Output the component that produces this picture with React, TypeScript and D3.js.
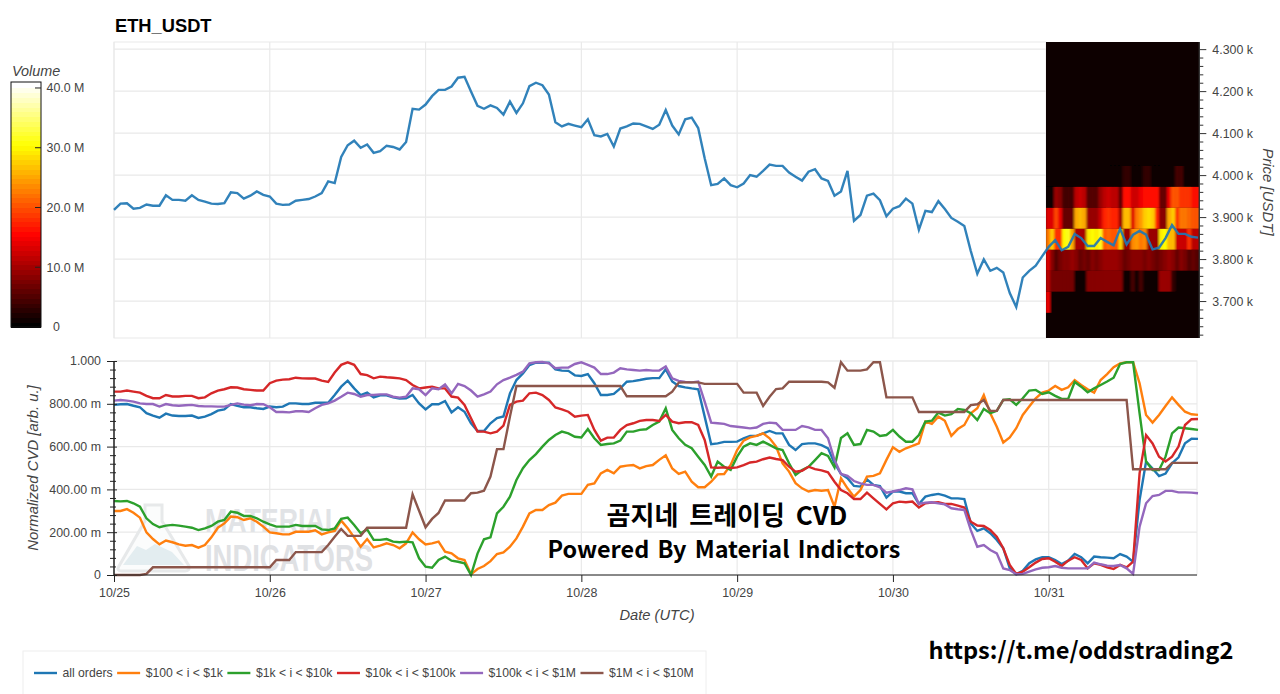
import { useEffect, useRef } from 'react';
import * as d3 from 'd3';

// hourly samples, 10/25 00:00 to 10/31 23:00 (one row per day)
const price = [
  3917, 3932, 3933, 3920, 3922, 3930, 3927, 3927, 3952, 3941, 3941, 3939, 3952, 3941, 3937, 3932, 3931, 3933, 3959, 3957, 3944, 3951, 3961, 3953,
  3949, 3932, 3929, 3930, 3939, 3941, 3943, 3949, 3957, 3985, 3981, 4043, 4071, 4082, 4065, 4073, 4053, 4057, 4070, 4067, 4061, 4079, 4158, 4156,
  4168, 4188, 4203, 4203, 4211, 4232, 4234, 4199, 4165, 4158, 4166, 4160, 4144, 4175, 4148, 4171, 4212, 4220, 4214, 4192, 4126, 4116, 4122, 4118,
  4114, 4133, 4095, 4092, 4098, 4068, 4111, 4116, 4123, 4122, 4116, 4110, 4120, 4155, 4118, 4097, 4133, 4137, 4112, 4040, 3976, 3979, 3992, 3976,
  3971, 3980, 4000, 3996, 4010, 4025, 4022, 4022, 4006, 3996, 3987, 4008, 4014, 3992, 3986, 3951, 3961, 4010, 3891, 3905, 3951, 3956, 3940, 3902,
  3920, 3926, 3944, 3932, 3870, 3915, 3912, 3938, 3919, 3898, 3889, 3879, 3819, 3765, 3799, 3772, 3779, 3768, 3719, 3686, 3756, 3772, 3784, 3807,
  3829, 3845, 3821, 3829, 3860, 3850, 3831, 3831, 3850, 3841, 3833, 3872, 3835, 3858, 3867, 3858, 3823, 3827, 3850, 3881, 3860, 3860, 3853, 3851,
];

// normalized CVD, in milli units
const allOrders = [
  795, 798, 799, 791, 784, 756, 745, 735, 754, 745, 743, 743, 745, 734, 740, 752, 768, 774, 799, 790, 784, 784, 779, 776,
  787, 784, 787, 802, 802, 799, 799, 805, 805, 805, 841, 880, 908, 872, 841, 852, 830, 840, 840, 830, 824, 826, 841, 802,
  774, 798, 798, 813, 760, 784, 763, 709, 673, 673, 709, 733, 741, 849, 911, 942, 981, 992, 992, 992, 961, 955, 954, 933,
  930, 939, 896, 841, 841, 846, 872, 903, 906, 911, 917, 920, 920, 961, 904, 883, 877, 872, 868, 740, 611, 615, 622, 622,
  623, 639, 650, 650, 662, 673, 662, 662, 608, 584, 612, 615, 615, 607, 592, 522, 472, 452, 416, 413, 447, 421, 416, 362,
  390, 390, 382, 382, 332, 366, 374, 379, 371, 358, 358, 355, 241, 206, 218, 195, 164, 125, 31, 3, 20, 55, 73, 83,
  83, 70, 51, 67, 98, 83, 55, 86, 83, 81, 78, 98, 86, 62, 350, 530, 498, 462, 474, 522, 550, 616, 637, 636,
];
const orders100to1k = [
  299, 299, 308, 291, 268, 199, 168, 143, 161, 153, 143, 137, 140, 128, 140, 176, 221, 241, 273, 270, 257, 265, 249, 226,
  199, 195, 190, 190, 202, 202, 202, 209, 190, 199, 206, 254, 218, 176, 132, 168, 129, 137, 148, 140, 125, 148, 199, 167,
  143, 148, 156, 109, 101, 78, 70, 3, 28, 42, 65, 98, 106, 132, 171, 226, 288, 304, 304, 327, 338, 371, 379, 379,
  379, 421, 428, 475, 491, 475, 506, 511, 514, 498, 509, 514, 538, 559, 498, 472, 483, 436, 410, 410, 436, 470, 472, 514,
  584, 628, 643, 650, 662, 639, 600, 522, 483, 429, 405, 390, 397, 394, 397, 319, 452, 405, 366, 397, 460, 463, 475, 538,
  597, 576, 592, 603, 615, 717, 706, 740, 721, 650, 682, 701, 756, 779, 841, 756, 693, 619, 643, 686, 748, 787, 826, 852,
  862, 883, 865, 877, 911, 888, 868, 852, 911, 939, 971, 989, 994, 994, 896, 748, 712, 748, 790, 830, 795, 763, 751, 748,
];
const orders1kto10k = [
  346, 344, 346, 335, 319, 265, 238, 223, 231, 234, 231, 226, 221, 210, 218, 229, 249, 257, 296, 291, 276, 276, 265, 249,
  237, 226, 226, 226, 234, 229, 229, 229, 213, 210, 218, 262, 268, 234, 195, 213, 164, 164, 168, 156, 153, 156, 153, 78,
  39, 34, 70, 86, 67, 62, 55, 0, 100, 167, 176, 288, 319, 366, 444, 499, 537, 565, 600, 631, 654, 670, 662, 646,
  643, 682, 639, 608, 612, 615, 628, 670, 670, 678, 681, 701, 717, 779, 678, 639, 608, 592, 553, 514, 460, 530, 506, 491,
  553, 600, 615, 608, 623, 608, 592, 584, 522, 467, 490, 506, 537, 569, 556, 503, 640, 662, 608, 612, 678, 670, 650, 654,
  678, 647, 623, 623, 654, 717, 721, 759, 745, 752, 776, 771, 756, 724, 776, 756, 767, 818, 821, 795, 826, 862, 865, 846,
  854, 837, 823, 823, 902, 880, 854, 872, 888, 904, 922, 986, 994, 994, 755, 530, 491, 491, 553, 662, 689, 686, 682, 678,
];
const orders10kto100k = [
  857, 857, 862, 857, 852, 837, 826, 826, 841, 834, 834, 837, 837, 826, 830, 849, 862, 868, 877, 876, 868, 865, 862, 862,
  896, 908, 913, 915, 922, 919, 918, 918, 908, 902, 946, 982, 994, 982, 939, 934, 919, 927, 924, 922, 919, 911, 888, 872,
  876, 880, 872, 872, 834, 829, 795, 732, 670, 670, 662, 670, 698, 795, 810, 815, 849, 852, 841, 818, 783, 774, 763, 740,
  745, 748, 678, 628, 642, 642, 678, 701, 709, 720, 724, 724, 720, 748, 717, 709, 714, 714, 701, 631, 503, 501, 503, 500,
  503, 514, 526, 530, 541, 549, 542, 537, 506, 483, 487, 506, 495, 489, 480, 436, 397, 382, 355, 355, 385, 358, 332, 307,
  335, 343, 340, 343, 315, 335, 338, 340, 332, 332, 324, 315, 249, 231, 229, 210, 179, 125, 47, 5, 16, 36, 58, 75,
  78, 62, 42, 67, 83, 70, 31, 55, 47, 36, 28, 47, 36, 62, 475, 654, 615, 553, 530, 553, 600, 701, 728, 729,
];
const orders100kto1M = [
  815, 818, 815, 810, 802, 799, 799, 787, 799, 793, 791, 793, 795, 790, 788, 788, 787, 787, 795, 802, 796, 793, 799, 798,
  784, 762, 762, 760, 765, 765, 762, 779, 795, 802, 815, 833, 852, 846, 833, 841, 841, 844, 844, 833, 829, 833, 872, 868,
  841, 872, 868, 890, 849, 893, 883, 862, 833, 844, 857, 891, 911, 922, 935, 950, 989, 994, 995, 989, 966, 969, 969, 986,
  994, 982, 969, 939, 939, 946, 966, 961, 958, 955, 958, 955, 955, 974, 919, 907, 902, 900, 904, 810, 712, 709, 706, 696,
  693, 689, 685, 689, 706, 712, 709, 678, 678, 678, 696, 690, 678, 678, 639, 537, 472, 463, 439, 428, 421, 421, 410, 385,
  390, 397, 405, 400, 332, 338, 340, 335, 330, 312, 307, 304, 210, 132, 140, 117, 101, 31, 23, 3, 5, 16, 26, 34,
  36, 42, 34, 31, 31, 31, 31, 58, 50, 44, 42, 47, 31, 5, 226, 335, 369, 374, 393, 393, 386, 386, 385, 382,
];
const orders1Mto10M = [
  0, 0, 0, 0, 0, 5, 36, 36, 36, 36, 36, 36, 36, 36, 36, 36, 36, 36, 36, 36, 36, 36, 36, 36,
  36, 70, 70, 70, 107, 107, 107, 107, 107, 140, 179, 215, 183, 183, 183, 221, 221, 221, 221, 221, 221, 221, 377, 300,
  223, 262, 290, 348, 348, 348, 348, 382, 385, 394, 460, 588, 588, 740, 883, 883, 883, 883, 883, 883, 883, 883, 883, 883,
  883, 883, 883, 883, 883, 883, 883, 835, 835, 835, 835, 835, 835, 835, 857, 899, 900, 900, 900, 893, 893, 893, 893, 893,
  893, 852, 852, 852, 790, 833, 869, 872, 903, 903, 903, 903, 903, 903, 900, 875, 994, 955, 955, 955, 961, 994, 994, 830,
  830, 830, 830, 830, 762, 762, 762, 762, 762, 762, 762, 762, 794, 798, 818, 767, 767, 818, 818, 818, 818, 818, 818, 818,
  818, 818, 818, 818, 818, 818, 818, 818, 818, 818, 818, 818, 818, 494, 494, 494, 494, 494, 494, 524, 524, 524, 524, 524,
];

const seriesNames = ['all orders', '$100 < i < $1k', '$1k < i < $10k', '$10k < i < $100k', '$100k < i < $1M', '$1M < i < $10M'];
const seriesValues = [allOrders, orders100to1k, orders1kto10k, orders10kto100k, orders100kto1M, orders1Mto10M];
const seriesColors = ['#1f77b4', '#ff7f0e', '#2ca02c', '#d62728', '#9467bd', '#8c564b'];

// order book volume in M, lower edge of each 50 USD price band, one value per time column
const heatBandLows = [3972, 3922, 3872, 3822, 3772, 3722, 3672];
const heatEmpty = 0.4;
const heatVolumes = [
  [.4, .4, .4, .4, .4, .4, .4, .4, .4, .4, .4, .4, .4, .4, .4, .4, .4, .4, .4, 3, 3, .4, .4, .4, 3, 3, .4, .4, .4, .4, .4, .4, 4, 4, .4, .4, .4, .4],
  [.4, .4, 9, 8, 4, 4, 4, 11, 12, 11, 5, 5, 5, 9, 11, 12, 11, 11, 5, 16, 16, 12, 12, 14, 16, 16, 16, 16, 6, 6, 14, 20, 20, 18, 18, 18, 16, 16],
  [13, 13, 19, 14, 6, 6, 6, 25, 26, 25, 9, 9, 9, 12, 17, 18, 17, 17, 9, 26, 26, 13, 22, 24, 27, 28, 27, 17, 8, 8, 25, 27, 18, 22, 22, 21, 20, 20],
  [22, 27, 18, 18, 30, 31, 25, 10, 10, 10, 29, 30, 29, 31, 20, 21, 20, 20, 28, 9, 9, 23, 24, 22, 23, 9, 9, 9, 29, 30, 26, 26, 12, 12, 12, 18, 11, 11],
  [13, 8, 5, 7, 8, 8, 9, 8, 6, 7, 6, 8, 7, 8, 9, 9, 9, 9, 8, 6, 7, 8, 8, 8, 7, 8, 7, 6, 7, 8, 9, 8, 6, 8, 7, 5, 6, 5],
  [11, 7, 7, 7, 7, 7, 7, 1, 1, 1, 8, 8, 8, 8, 8, 8, 8, 8, 8, 1, 1, 4, 1, 4, 1, 1, 1, 1, 9, 9, 9, 3, 1, 1, 1, 1, 1, 1],
  [14, 1, 1, 1, 1, 1, 1, 1, 1, 1, 1, 1, 1, 1, 1, 1, 1, 1, 1, 1, 1, 1, 1, 1, 1, 1, 1, 1, 1, 1, 1, 1, 1, 1, 1, 1, 1, 1],
];

const dayTicks = [0, 24, 48, 72, 96, 120, 144];
const dayLabels = ['10/25', '10/26', '10/27', '10/28', '10/29', '10/30', '10/31'];
const priceTicks = [3700, 3800, 3900, 4000, 4100, 4200, 4300];
const cvdTicks = [0, 200, 400, 600, 800, 1000];
const volumeTicks = [0, 10, 20, 30, 40];

const FONT = '"Liberation Sans", Arial, sans-serif';
const TEXT = '#444444';
const GRID = '#e9e9e9';

// matplotlib style "hot" colour map, 0..40 M
function hot(v: number) {
  const t = Math.min(1, v / 40);
  const r = Math.min(1, t / 0.375);
  const g = Math.max(0, Math.min(1, (t - 0.375) / 0.375));
  const b = Math.max(0, (t - 0.75) / 0.25);
  return d3.rgb(r * 255, g * 255, b * 255).formatHex();
}

export default function App() {
  const svgRef = useRef<SVGSVGElement>(null);

  useEffect(() => {
    const svg = d3.select(svgRef.current);
    svg.selectAll('*').remove();

    const addText = (x: number, y: number, str: string, size: number, opts: any = {}) =>
      svg.append('text')
        .attr('x', x)
        .attr('y', y)
        .attr('text-anchor', opts.anchor || 'start')
        .attr('transform', opts.rotate ? `rotate(${opts.rotate},${x},${y})` : null)
        .style('font-family', opts.family || FONT)
        .style('font-size', `${size}px`)
        .style('font-weight', opts.weight || 'normal')
        .style('font-style', opts.italic ? 'italic' : 'normal')
        .style('word-spacing', opts.wordSpacing ? `${opts.wordSpacing}px` : null)
        .style('fill', opts.fill || TEXT)
        .text(str);

    // Scales
    const xTop = d3.scaleLinear().domain([0, 167]).range([114, 1198]);
    const yPrice = d3.scaleLinear().domain([3612, 4317]).range([338, 42]);
    const yCvd = d3.scaleLinear().domain([0, 1000]).range([575, 361]);
    const lineOf = (yScale: d3.ScaleLinear<number, number>) =>
      d3.line<number>().x((_, i) => xTop(i)).y(d => yScale(d));

    addText(115, 32, 'ETH_USDT', 18.3, { weight: 'bold', fill: '#000' });

    // Top panel frame and grid
    svg.append('rect').attr('x', 114).attr('y', 42).attr('width', 932).attr('height', 296)
      .attr('fill', '#fff').attr('stroke', GRID);
    svg.append('g').selectAll('line').data(priceTicks).enter().append('line')
      .attr('x1', 114).attr('x2', 1046)
      .attr('y1', d => yPrice(d)).attr('y2', d => yPrice(d))
      .attr('stroke', GRID).attr('stroke-width', 1.2);
    svg.append('g').selectAll('line').data(dayTicks).enter().append('line')
      .attr('x1', d => xTop(d)).attr('x2', d => xTop(d))
      .attr('y1', 42).attr('y2', 338)
      .attr('stroke', GRID).attr('stroke-width', 1.2);

    // Heatmap, slightly soft like the reference
    const defs = svg.append('defs');
    defs.append('clipPath').attr('id', 'heat-clip').append('rect')
      .attr('x', 1046).attr('y', 42).attr('width', 153.3).attr('height', 296);
    defs.append('filter').attr('id', 'heat-soft')
      .attr('filterUnits', 'userSpaceOnUse').attr('x', 1030).attr('y', 30).attr('width', 190).attr('height', 320)
      .append('feGaussianBlur').attr('stdDeviation', '0.8 0.5');
    const xHeat = d3.scaleBand<number>().domain(d3.range(heatVolumes[0].length)).range([1046, 1199.3]);
    const heat = svg.append('g').attr('clip-path', 'url(#heat-clip)').append('g').attr('filter', 'url(#heat-soft)');
    heat.append('rect').attr('x', 1036).attr('y', 32).attr('width', 175).attr('height', 316).attr('fill', hot(heatEmpty));
    heatVolumes.forEach((row, b) => {
      heat.append('g').selectAll('rect').data(row).enter().append('rect')
        .attr('x', (_, i) => xHeat(i)!)
        .attr('width', xHeat.bandwidth() + 0.5)
        .attr('y', yPrice(heatBandLows[b] + 50))
        .attr('height', yPrice(heatBandLows[b]) - yPrice(heatBandLows[b] + 50))
        .attr('fill', d => hot(d));
    });

    svg.append('path').datum(price)
      .attr('d', lineOf(yPrice))
      .attr('fill', 'none')
      .attr('stroke', seriesColors[0])
      .attr('stroke-opacity', 0.92)
      .attr('stroke-width', 2.4);

    // Price axis
    const priceMinor = d3.range(3620, 4301, 20).filter(d => d % 100 !== 0);
    const priceMinorG = svg.append('g').attr('transform', 'translate(1199.3,0)')
      .call(d3.axisRight(yPrice).tickValues(priceMinor).tickSize(4).tickFormat(() => ''));
    const priceAxis = svg.append('g').attr('transform', 'translate(1199.3,0)')
      .call(d3.axisRight(yPrice).tickValues(priceTicks).tickSize(7)
        .tickFormat(d => `${d3.format('.3f')(+d / 1000)} k`));
    priceAxis.selectAll('text').attr('x', 13).style('font-family', FONT).style('font-size', '12.4px').style('fill', TEXT);
    [priceMinorG, priceAxis].forEach(g => {
      g.selectAll('.domain').attr('d', 'M0,42V338').attr('stroke', '#333');
      g.selectAll('.tick line').attr('stroke', '#333');
    });
    addText(1263, 192, 'Price [USDT]', 15, { italic: true, anchor: 'middle', rotate: 90 });

    // Volume colour bar
    const yBar = d3.scaleLinear().domain([0, 41]).range([327, 82]);
    const barLevels = d3.range(0, 41, 0.8);
    svg.append('g').attr('shape-rendering', 'crispEdges').selectAll('rect').data(barLevels).enter().append('rect')
      .attr('x', 11)
      .attr('width', 30)
      .attr('y', d => yBar(d + 0.8))
      .attr('height', d => yBar(d) - yBar(d + 0.8) + 0.5)
      .attr('fill', d => hot(d));
    svg.append('rect').attr('x', 11).attr('y', 82).attr('width', 30).attr('height', 245)
      .attr('fill', 'none').attr('stroke', '#111');
    svg.append('g').selectAll('line').data(volumeTicks.slice(1)).enter().append('line')
      .attr('x1', 35).attr('x2', 41)
      .attr('y1', d => yBar(d)).attr('y2', d => yBar(d))
      .attr('stroke', '#222');
    volumeTicks.forEach(d => {
      addText(d === 0 ? 53 : 46.5, yBar(d) + 4.5 - (d === 0 ? 1 : 0), d === 0 ? '0' : `${d.toFixed(1)} M`, 12.4);
    });
    addText(12, 76, 'Volume', 14.4, { italic: true });

    // Bottom panel frame and grid
    svg.append('rect').attr('x', 114).attr('y', 361).attr('width', 1083).attr('height', 214)
      .attr('fill', '#fff').attr('stroke', GRID);
    svg.append('g').selectAll('line').data(cvdTicks).enter().append('line')
      .attr('x1', 114).attr('x2', 1197)
      .attr('y1', d => yCvd(d)).attr('y2', d => yCvd(d))
      .attr('stroke', GRID).attr('stroke-width', 1.2);
    svg.append('g').selectAll('line').data(dayTicks).enter().append('line')
      .attr('x1', d => xTop(d)).attr('x2', d => xTop(d))
      .attr('y1', 361).attr('y2', 575)
      .attr('stroke', GRID).attr('stroke-width', 1.2);

    // Watermark logo and text, under the lines
    const mark = svg.append('g');
    mark.append('path')
      .attr('d', 'M145,505H162V521L189,566Q190,571 185,571H122Q116,571 119,566L145,521Z')
      .attr('fill', '#fbfcfc').attr('stroke', '#e7e9ea').attr('stroke-width', 3);
    mark.append('path')
      .attr('d', 'M123,565L137,546L146,550L155,544L172,552L184,565Z')
      .attr('fill', '#e3edf0');
    mark.append('text').attr('x', 205).attr('y', 532).attr('textLength', 136).attr('lengthAdjust', 'spacingAndGlyphs')
      .style('font-family', FONT).style('font-weight', 'bold').style('font-size', '33px').style('fill', '#e1e3e6').text('MATERIAL');
    mark.append('text').attr('x', 205).attr('y', 571).attr('textLength', 168).attr('lengthAdjust', 'spacingAndGlyphs')
      .style('font-family', FONT).style('font-weight', 'bold').style('font-size', '36px').style('fill', '#dfe1e4').text('INDICATORS');

    // CVD lines
    seriesValues.forEach((values, s) => {
      svg.append('path').datum(values)
        .attr('d', lineOf(yCvd))
        .attr('fill', 'none')
        .attr('stroke', seriesColors[s])
        .attr('stroke-width', 2.4);
    });

    // CVD y axis
    const cvdMinor = d3.range(0, 1001, 40).filter(d => d % 200 !== 0);
    const cvdMinorG = svg.append('g').attr('transform', 'translate(114,0)')
      .call(d3.axisLeft(yCvd).tickValues(cvdMinor).tickSize(4).tickFormat(() => ''));
    const cvdAxis = svg.append('g').attr('transform', 'translate(114,0)')
      .call(d3.axisLeft(yCvd).tickValues(cvdTicks).tickSize(7)
        .tickFormat(d => (+d === 0 ? '0' : +d === 1000 ? '1.000' : `${d3.format('.2f')(+d)} m`)));
    cvdAxis.selectAll('text').attr('x', -13).style('font-family', FONT).style('font-size', '12.4px').style('fill', TEXT);
    cvdAxis.selectAll('.tick line').attr('x1', 3);
    cvdMinorG.selectAll('.tick line').attr('x1', 2);
    [cvdMinorG, cvdAxis].forEach(g => {
      g.selectAll('.domain').attr('d', 'M0,361V575').attr('stroke', '#222');
      g.selectAll('.tick line').attr('stroke', '#222');
    });
    addText(38, 468, 'Normalized CVD [arb. u.]', 14.9, { italic: true, anchor: 'middle', rotate: -90 });

    // Date axis
    const dateAxis = svg.append('g').attr('transform', 'translate(0,575)')
      .call(d3.axisBottom(xTop).tickValues(dayTicks).tickSize(7).tickFormat((_, i) => dayLabels[i]));
    dateAxis.selectAll('text').attr('y', 13).style('font-family', FONT).style('font-size', '12.4px').style('fill', TEXT);
    dateAxis.selectAll('.domain').attr('d', 'M114,0H1197').attr('stroke', '#222');
    dateAxis.selectAll('.tick line').attr('stroke', '#222');
    addText(657, 620, 'Date (UTC)', 14.7, { italic: true, anchor: 'middle' });

    // Overlaid captions
    const CJK = '"Noto Sans CJK KR", "Noto Sans", sans-serif';
    addText(727, 525, '곰지네 트레이딩 CVD', 26, { anchor: 'middle', family: CJK, weight: 'bold', fill: '#000', wordSpacing: 5 });
    addText(724, 558, 'Powered By Material Indictors', 23.4, { anchor: 'middle', family: CJK, weight: 'bold', fill: '#000', wordSpacing: 3 });
    addText(1081, 659, 'https://t.me/oddstrading2', 23.6, { anchor: 'middle', family: CJK, weight: 'bold', fill: '#000' });

    // Legend
    svg.append('rect').attr('x', 23).attr('y', 651).attr('width', 683).attr('height', 60)
      .attr('fill', '#fff').attr('stroke', '#eeeeee');
    let cursor = 34;
    seriesNames.forEach((name, s) => {
      svg.append('line').attr('x1', cursor).attr('x2', cursor + 23).attr('y1', 673).attr('y2', 673)
        .attr('stroke', seriesColors[s]).attr('stroke-width', 2.4);
      const label = addText(cursor + 28.5, 677, name, 12.2);
      cursor += 28.5 + (label.node() as SVGTextElement).getComputedTextLength() + 4.5;
    });
  }, []);

  return <svg ref={svgRef} width={1280} height={694} style={{ position: 'fixed', left: 0, top: 0, background: '#fff' }} />;
}
